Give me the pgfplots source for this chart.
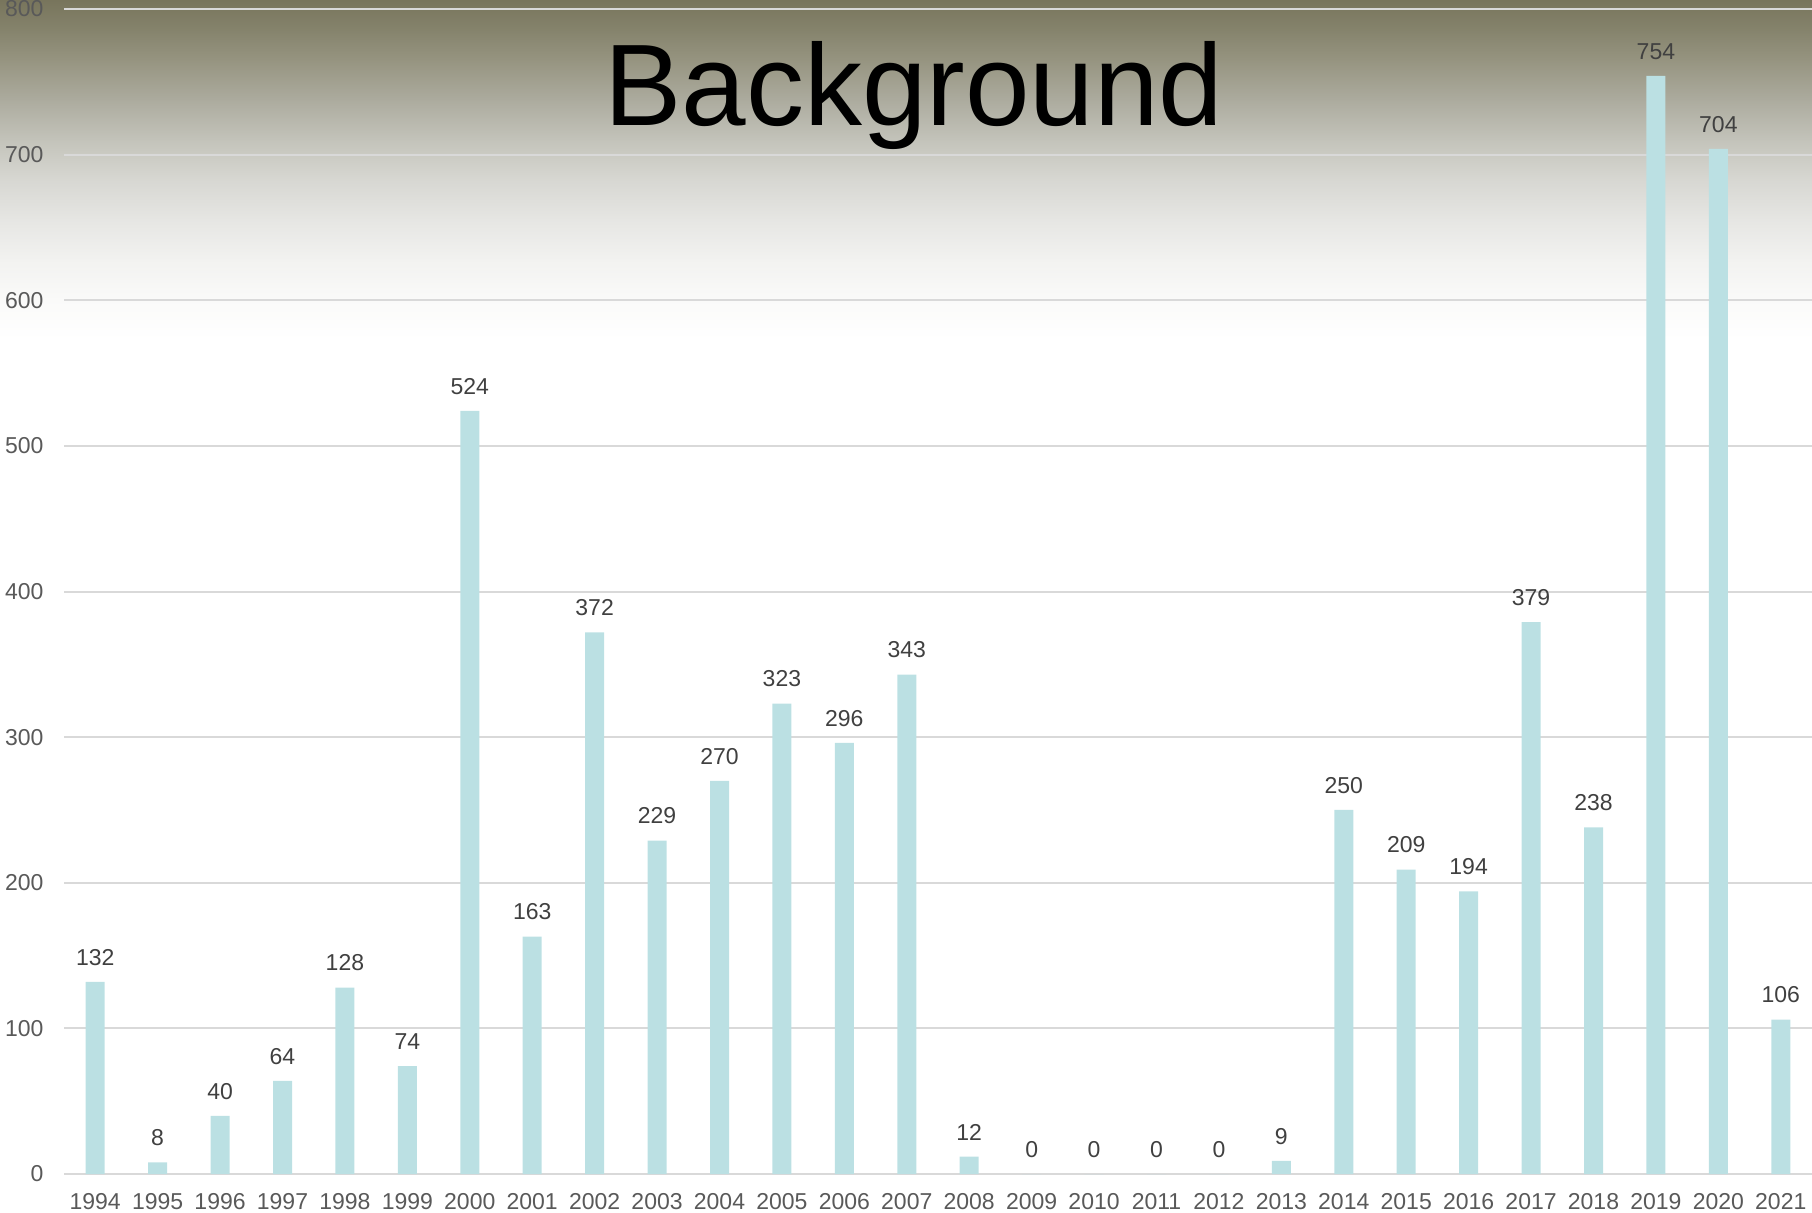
\documentclass[border=0pt]{standalone}
\usepackage{fontspec}
\setmainfont{Liberation Sans}
\usepackage{pgfplots}
\pgfplotsset{compat=1.18}
\usepackage{pgfplotstable}

\definecolor{barcol}{RGB}{187,224,227}
\definecolor{gridcol}{RGB}{217,217,217}
\definecolor{ticklab}{RGB}{89,89,89}
\definecolor{datalab}{RGB}{64,64,64}
\definecolor{bg0}{RGB}{120,117,92}
\definecolor{bg1}{RGB}{133,131,108}
\definecolor{bg2}{RGB}{150,148,128}
\definecolor{bg3}{RGB}{172,171,158}
\definecolor{bg4}{RGB}{195,195,186}
\definecolor{bg5}{RGB}{215,215,210}
\definecolor{bg6}{RGB}{230,230,227}
\definecolor{bg7}{RGB}{242,242,240}
\definecolor{bg8}{RGB}{250,250,249}

\pgfplotstableread{
idx val
0 132
1 8
2 40
3 64
4 128
5 74
6 524
7 163
8 372
9 229
10 270
11 323
12 296
13 343
14 12
15 0
16 0
17 0
18 0
19 9
20 250
21 209
22 194
23 379
24 238
25 754
26 704
27 106
}\datatable

\begin{document}
\begin{tikzpicture}
\shade[top color=bg8, bottom color=white] (0pt,436pt) rectangle (906pt,456.3pt);
\shade[top color=bg7, bottom color=bg8] (0pt,456pt) rectangle (906pt,476.3pt);
\shade[top color=bg6, bottom color=bg7] (0pt,476pt) rectangle (906pt,496.3pt);
\shade[top color=bg5, bottom color=bg6] (0pt,496pt) rectangle (906pt,516.3pt);
\shade[top color=bg4, bottom color=bg5] (0pt,516pt) rectangle (906pt,536.3pt);
\shade[top color=bg3, bottom color=bg4] (0pt,536pt) rectangle (906pt,556.3pt);
\shade[top color=bg2, bottom color=bg3] (0pt,556pt) rectangle (906pt,576.3pt);
\shade[top color=bg1, bottom color=bg2] (0pt,576pt) rectangle (906pt,591.3pt);
\shade[top color=bg0, bottom color=bg1] (0pt,591pt) rectangle (906pt,606pt);
\begin{axis}[
  at={(32pt,19pt)}, anchor=south west,
  scale only axis, width=874pt, height=582.5pt,
  xmin=-0.5, xmax=27.5, ymin=0, ymax=800,
  ytick={0,100,...,800},
  xtick={0,...,27},
  xticklabels={1994,1995,1996,1997,1998,1999,2000,2001,2002,2003,2004,2005,2006,2007,2008,2009,2010,2011,2012,2013,2014,2015,2016,2017,2018,2019,2020,2021},
  /pgf/number format/assume math mode=true,
  /pgf/number format/1000 sep={},
  ymajorgrids,
  grid style={draw=gridcol, line width=1pt},
  axis line style={draw=none},
  major tick length=0pt,
  tick label style={font=\fontsize{11.5}{13}\selectfont, color=ticklab},
  yticklabel style={xshift=-6.7pt},
  xticklabel style={yshift=-6.3pt},
  ybar, bar width=9.5pt,
  clip=false,
  nodes near coords,
  every node near coord/.append style={font=\fontsize{11.5}{13}\selectfont, color=datalab, yshift=4.7pt},
]
\addplot[fill=barcol, draw=none] table[x=idx, y=val] {\datatable};
\end{axis}
\node[anchor=base, font=\fontsize{58}{62}\selectfont, text=black] at (457pt,543pt) {Background};
\pgfresetboundingbox
\useasboundingbox (0pt,0pt) rectangle (906pt,606pt);
\end{tikzpicture}
\end{document}
